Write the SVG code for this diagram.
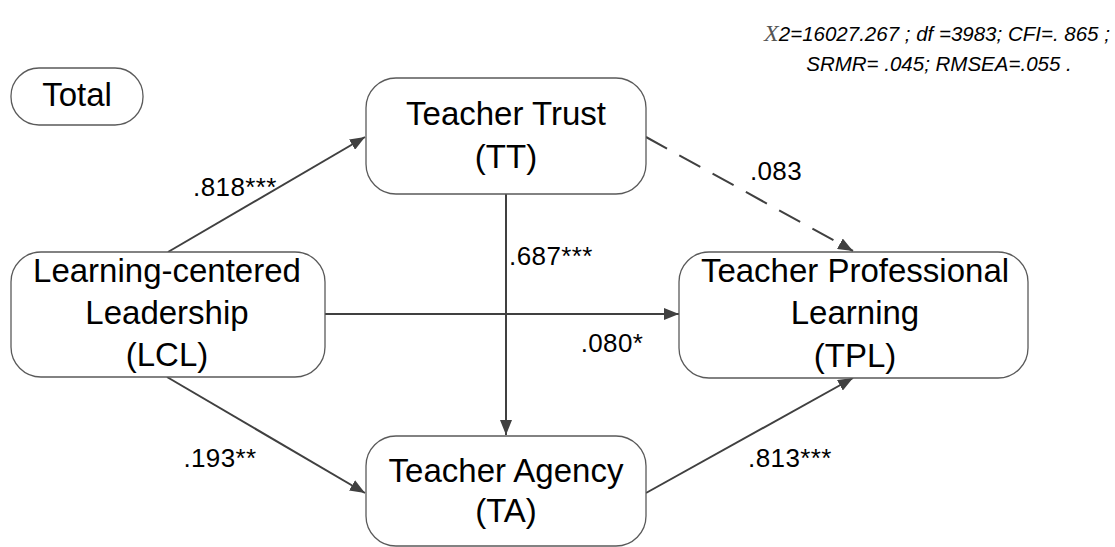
<svg xmlns="http://www.w3.org/2000/svg" width="1115" height="547" viewBox="0 0 1115 547">
  <style>
    .box { fill: #ffffff; stroke: #5a5a5a; stroke-width: 1.3; }
    .node { font-family: "Liberation Sans", Arial, sans-serif; font-size: 33px; fill: #000; text-anchor: middle; }
    .lbl { font-family: "Liberation Sans", Arial, sans-serif; font-size: 26px; letter-spacing: 0.4px; fill: #000; text-anchor: middle; }
    .edge { stroke: #404040; stroke-width: 2; fill: none; marker-end: url(#arrow); }
    .dash { stroke-dasharray: 24 14; }
    .fit { font-family: "Liberation Sans", Arial, sans-serif; font-style: italic; font-size: 20.5px; fill: #000; text-anchor: middle; }
  </style>
  <defs>
    <marker id="arrow" markerUnits="userSpaceOnUse" markerWidth="16" markerHeight="12" refX="15" refY="6" orient="auto">
      <path d="M0,0 L15,6 L0,12 z" fill="#404040"/>
    </marker>
  </defs>

  <rect width="1115" height="547" fill="#ffffff"/>

  <!-- model fit indices -->
  <g id="fit-indices">
    <text class="fit" x="937" y="41"><tspan font-family="'Liberation Serif', 'Times New Roman', serif" font-size="24px" fill="#555">X</tspan>2=16027.267 ; df =3983; CFI=. 865  ;</text>
    <text class="fit" x="939" y="71">SRMR= .045; RMSEA=.055 .</text>
  </g>

  <!-- connectors -->
  <g id="connectors">
    <line class="edge" x1="168" y1="252" x2="365" y2="137"/>
    <line class="edge dash" x1="646" y1="137" x2="853" y2="251"/>
    <line class="edge" x1="506" y1="194" x2="506" y2="435"/>
    <line class="edge" x1="325" y1="314" x2="679" y2="314"/>
    <line class="edge" x1="167" y1="377" x2="365" y2="493"/>
    <line class="edge" x1="646" y1="493" x2="853" y2="378"/>
  </g>

  <!-- path coefficients -->
  <g id="coefficients">
    <text class="lbl" x="235" y="196">.818***</text>
    <text class="lbl" x="776" y="180">.083</text>
    <text class="lbl" x="551" y="265">.687***</text>
    <text class="lbl" x="612" y="352">.080*</text>
    <text class="lbl" x="220" y="467">.193**</text>
    <text class="lbl" x="790" y="467">.813***</text>
  </g>

  <g id="node-total">
    <rect class="box" x="11" y="68" width="132" height="57" rx="28" ry="28"/>
    <text class="node" x="77" y="106">Total</text>
  </g>

  <g id="node-tt">
    <rect class="box" x="366" y="78" width="280" height="116" rx="30" ry="30"/>
    <text class="node" x="506" y="125">Teacher Trust</text>
    <text class="node" x="506" y="168">(TT)</text>
  </g>

  <g id="node-lcl">
    <rect class="box" x="11" y="252" width="314" height="125" rx="30" ry="30"/>
    <text class="node" x="167" y="282">Learning-centered</text>
    <text class="node" x="167" y="324">Leadership</text>
    <text class="node" x="167" y="366">(LCL)</text>
  </g>

  <g id="node-tpl">
    <rect class="box" x="679" y="252" width="349" height="126" rx="30" ry="30"/>
    <text class="node" x="855" y="282">Teacher Professional</text>
    <text class="node" x="855" y="324">Learning</text>
    <text class="node" x="855" y="367">(TPL)</text>
  </g>

  <g id="node-ta">
    <rect class="box" x="366" y="436" width="280" height="110" rx="30" ry="30"/>
    <text class="node" x="506" y="482">Teacher Agency</text>
    <text class="node" x="506" y="522">(TA)</text>
  </g>
</svg>
